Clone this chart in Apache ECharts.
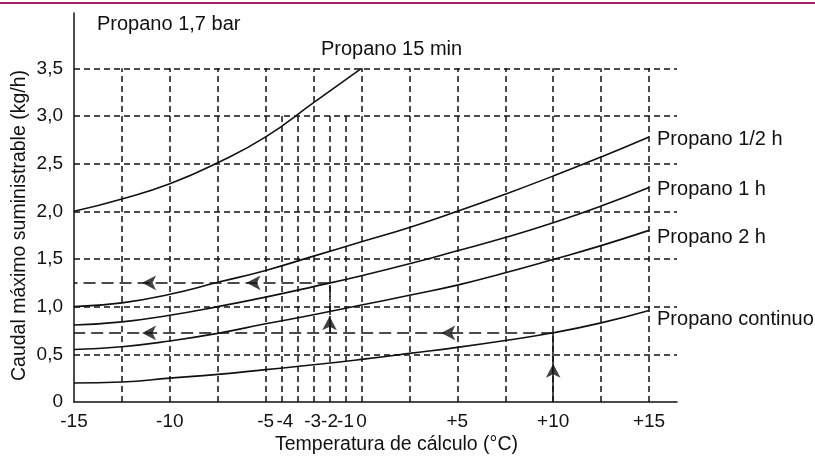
<!DOCTYPE html>
<html>
<head>
<meta charset="utf-8">
<script src="https://cdn.jsdelivr.net/npm/echarts@6/dist/echarts.min.js"></script>
<style>
  html, body { margin: 0; padding: 0; background: #fff; }
  #chart { width: 815px; height: 457px; }
</style>
</head>
<body>
<div id="chart"></div>
<script>
// Temperatura de cálculo (°C) at which each curve is read
const temps = [-15, -12.5, -10, -7.5, -5, -2.5, 0, 2.5, 5, 7.5, 10, 12.5, 15];

// Caudal máximo suministrable (kg/h), propano a 1,7 bar
const propano15min   = [2.00, 2.13, 2.29, 2.51, 2.78, 3.14, 3.50];
const propanoMediaH  = [1.00, 1.04, 1.13, 1.255, 1.38, 1.53, 1.68, 1.83, 2.00, 2.18, 2.37, 2.57, 2.78];
const propano1h      = [0.807, 0.84, 0.91, 1.00, 1.10, 1.21, 1.325, 1.45, 1.586, 1.725, 1.88, 2.055, 2.25];
const propano2h      = [0.55, 0.58, 0.64, 0.72, 0.82, 0.915, 1.017, 1.12, 1.226, 1.355, 1.495, 1.64, 1.80];
const propanoCont    = [0.20, 0.21, 0.25, 0.29, 0.34, 0.39, 0.447, 0.51, 0.573, 0.645, 0.726, 0.83, 0.96];

// Axis labels
const yTicks = [0, 0.5, 1, 1.5, 2, 2.5, 3, 3.5];
const xTickValues = [-15, -10, -5, -4, -2.55, -1.667, -0.833, 0, 5, 10, 15];
const xTickLabels = ['-15', '-10', '-5', '-4', '-3', '-2', '-1', '0', '+5', '+10', '+15'];

// Dashed reading grid
const gridX = [-12.5, -10, -7.5, -5, -2.5, 0, 2.5, 5, 7.5, 10, 12.5, 15];
const gridXFine = [-4.167, -3.333, -1.667, -0.833];
const gridY = [0.5, 1, 1.5, 2, 2.5, 3, 3.5];

// Worked example: continuous draw at +10 °C, then reading at -2 °C
const ejemploT1 = 10;
const ejemploQ1 = 0.725;
const ejemploT2 = -1.667;
const ejemploQ2 = 1.25;
const flechasIzq = [[-11.45, 1.25], [-6.0, 1.25], [-11.45, 0.725], [4.16, 0.725]];
const flechasArriba = [[10, 0.40], [-1.667, 0.90]];

const X_MIN = -15, X_MAX = 16.46, Y_MIN = 0, Y_MAX = 4.08;
const INK = '#111';
const FONT = 'Liberation Sans, Arial, Helvetica, sans-serif';

const pairs = (ys) => ys.map((y, i) => [temps[i], y]);

const gridSegments = []
  .concat(gridY.map(y => ({ coords: [[X_MIN, y], [X_MAX, y]] })))
  .concat(gridX.map(x => ({ coords: [[x, 0], [x, 3.5]] })))
  .concat(gridXFine.map(x => ({ coords: [[x, 0], [x, 3.0]] })));

function curve(name, ys, labelExtra) {
  return {
    type: 'line',
    name: name,
    data: pairs(ys),
    smooth: 0.5,
    showSymbol: false,
    silent: true,
    z: 5,
    lineStyle: { color: INK, width: 1.6 },
    endLabel: Object.assign({
      show: true,
      formatter: '{a}',
      color: INK,
      fontSize: 20,
      fontFamily: FONT,
      distance: 8
    }, labelExtra || {})
  };
}

const chart = echarts.init(document.getElementById('chart'), null, { renderer: 'canvas' });

chart.setOption({
  animation: false,
  backgroundColor: '#fff',
  title: {
    text: 'Propano 1,7 bar',
    left: 92,
    top: 9,
    textStyle: { color: INK, fontSize: 20, fontWeight: 'normal', fontFamily: FONT }
  },
  graphic: [{
    type: 'line',
    shape: { x1: 0, y1: 3, x2: 815, y2: 3 },
    style: { stroke: '#a3206c', lineWidth: 2 }
  }],
  grid: { left: 74, right: 138, top: 13, bottom: 55, outerBoundsMode: 'none', containLabel: false },
  xAxis: {
    type: 'value',
    min: X_MIN,
    max: X_MAX,
    axisLine: { show: true, onZero: false, lineStyle: { color: INK, width: 1.5 } },
    axisTick: { show: false },
    splitLine: { show: false },
    axisLabel: {
      customValues: xTickValues,
      formatter: (v) => {
        const i = xTickValues.findIndex(t => Math.abs(t - v) < 1e-6);
        return i >= 0 ? xTickLabels[i] : '';
      },
      color: INK,
      fontSize: 19,
      fontFamily: FONT,
      margin: 10
    },
    name: 'Temperatura de cálculo (°C)',
    nameLocation: 'middle',
    nameGap: 33,
    nameMoveOverlap: false,
    nameTextStyle: { color: INK, fontSize: 19.5, fontFamily: FONT, padding: [0, 0, 0, 42] }
  },
  yAxis: {
    type: 'value',
    min: Y_MIN,
    max: Y_MAX,
    axisLine: { show: true, onZero: false, lineStyle: { color: INK, width: 1.5 } },
    axisTick: { show: false },
    splitLine: { show: false },
    axisLabel: {
      customValues: yTicks,
      formatter: (v) => v === 0 ? '0' : v.toFixed(1).replace('.', ','),
      color: INK,
      fontSize: 19,
      fontFamily: FONT,
      margin: 11
    },
    name: 'Caudal máximo suministrable (kg/h)',
    nameLocation: 'middle',
    nameGap: 44,
    nameMoveOverlap: false,
    nameTextStyle: { color: INK, fontSize: 19.5, fontFamily: FONT, padding: [0, 36, 0, 0] }
  },
  series: [
    {
      type: 'lines',
      coordinateSystem: 'cartesian2d',
      silent: true,
      z: 1,
      lineStyle: { color: INK, width: 1.5, type: [6, 4], opacity: 1 },
      data: gridSegments
    },
    {
      type: 'lines',
      coordinateSystem: 'cartesian2d',
      silent: true,
      z: 3,
      lineStyle: { color: INK, width: 1.5, type: [12, 6], opacity: 1 },
      data: [
        { coords: [[ejemploT1, ejemploQ1], [X_MIN, ejemploQ1]] },
        { coords: [[ejemploT2, ejemploQ1], [ejemploT2, ejemploQ2]] },
        { coords: [[ejemploT2, ejemploQ2], [X_MIN, ejemploQ2]] }
      ]
    },
    {
      type: 'lines',
      coordinateSystem: 'cartesian2d',
      silent: true,
      z: 3,
      lineStyle: { color: INK, width: 1.5, type: 'solid', opacity: 1 },
      data: [{ coords: [[ejemploT1, 0], [ejemploT1, ejemploQ1]] }]
    },
    {
      type: 'scatter',
      silent: true,
      z: 6,
      symbol: 'arrow',
      symbolSize: [11, 14],
      symbolRotate: 90,
      itemStyle: { color: INK },
      data: flechasIzq
    },
    {
      type: 'scatter',
      silent: true,
      z: 6,
      symbol: 'arrow',
      symbolSize: [11, 14],
      symbolRotate: 0,
      itemStyle: { color: INK },
      data: flechasArriba
    },
    curve('Propano 15 min', propano15min, { align: 'center', verticalAlign: 'middle', distance: 0, offset: [30, -19] }),
    curve('Propano 1/2 h', propanoMediaH, { offset: [0, 3] }),
    curve('Propano 1 h', propano1h, { offset: [0, 2] }),
    curve('Propano 2 h', propano2h, { offset: [0, 7] }),
    curve('Propano continuo', propanoCont, { offset: [0, 9] })
  ]
});
</script>
</body>
</html>
